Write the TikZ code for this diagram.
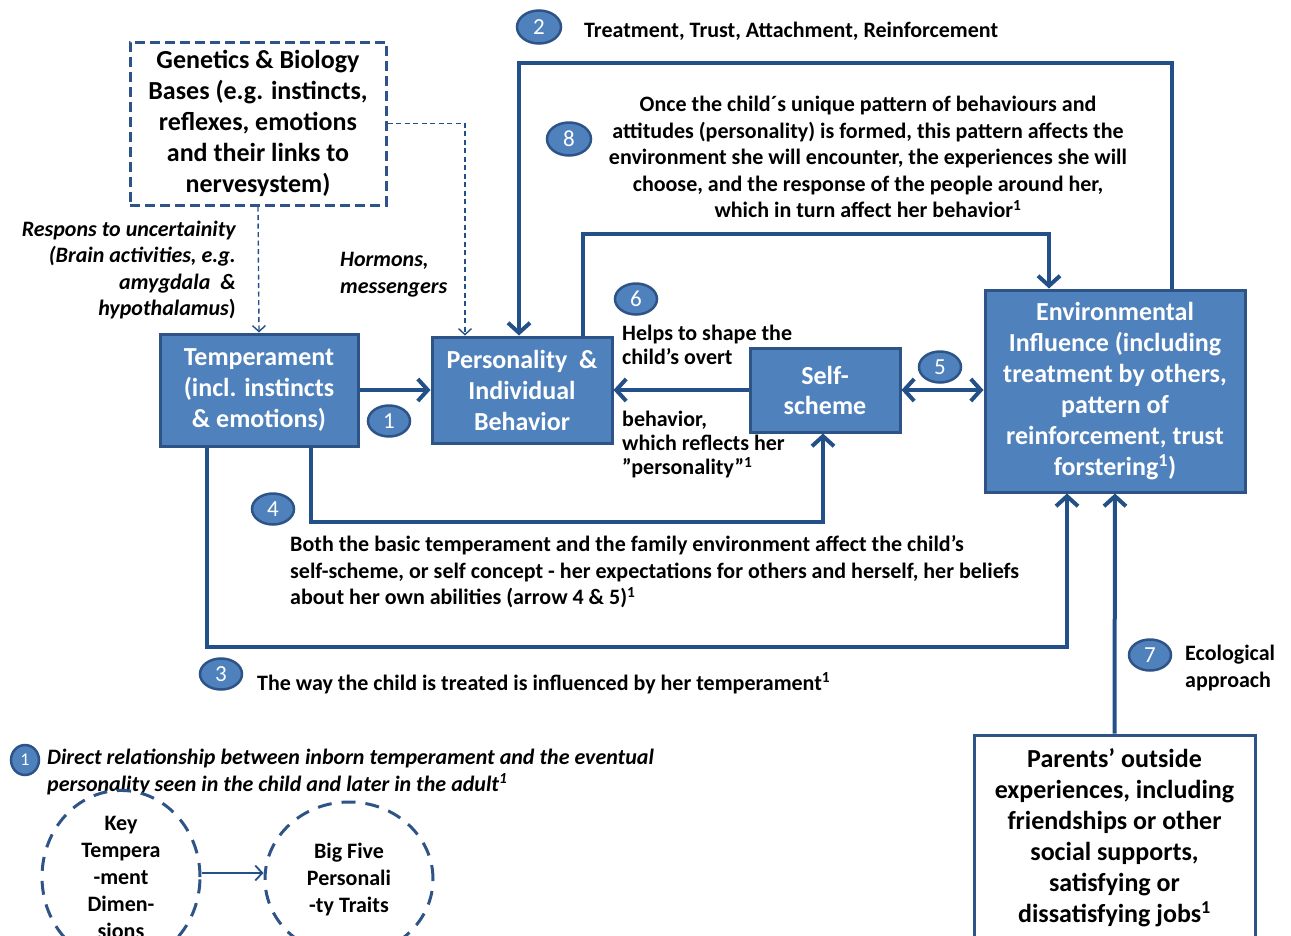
\documentclass[tikz,border=0pt]{standalone}
\usepackage{fontspec}
\setmainfont{Carlito}
\usetikzlibrary{arrows.meta,shapes.geometric}
\definecolor{boxfill}{HTML}{4F81BD}
\definecolor{boxedge}{HTML}{2E5487}
\definecolor{linec}{HTML}{24508A}
\begin{document}
\begin{tikzpicture}[x=1pt,y=-1pt,
  bluebox/.style={rectangle,draw=boxedge,fill=boxfill,line width=3pt,text=white,
    font=\bfseries\fontsize{26}{31}\selectfont,align=center,inner sep=0pt},
  whitebox/.style={rectangle,draw=boxedge,fill=white,line width=3pt,text=black,
    font=\bfseries\fontsize{26}{31}\selectfont,align=center,inner sep=0pt},
  dashbox/.style={rectangle,draw=boxedge,line width=3pt,dash pattern=on 10pt off 5pt,
    font=\bfseries\fontsize{26}{31}\selectfont,align=center,inner sep=0pt},
  dashring/.style={ellipse,draw=boxedge,line width=3pt,dash pattern=on 14pt off 10pt,
    font=\bfseries\fontsize{22}{27}\selectfont,align=center,inner sep=0pt},
  badge/.style={ellipse,draw=boxedge,fill=boxfill,line width=2.5pt,text=white,
    minimum width=42pt,minimum height=31pt,inner sep=0pt,font=\fontsize{23}{23}\selectfont},
  arr/.style={draw=linec,line width=4pt,-{Straight Barb[length=10pt,width=22pt,line width=4pt]}},
  darr/.style={draw=linec,line width=4pt,{Straight Barb[length=10pt,width=22pt,line width=4pt]}-{Straight Barb[length=10pt,width=22pt,line width=4pt]}},
  thinarr/.style={draw=linec,line width=1.4pt,dash pattern=on 5pt off 3.5pt,-{Straight Barb[length=6pt,width=13pt,line width=1.4pt]}},
  solidthin/.style={draw=linec,line width=1.8pt,-{Straight Barb[length=7pt,width=15pt,line width=1.8pt]}},
  lbl/.style={inner sep=0pt,font=\bfseries\fontsize{22}{26.6}\selectfont},
  lbls/.style={inner sep=0pt,font=\bfseries\fontsize{22}{24}\selectfont},
  ilbl/.style={inner sep=0pt,font=\bfseries\itshape\fontsize{22}{26.6}\selectfont}
]
\useasboundingbox (0,0) rectangle (1291,935);

% main boxes
\node[dashbox,minimum width=256pt,minimum height=163pt] (gen) at (258,123.5)
  {Genetics \& Biology\\Bases (e.g. instincts,\\reflexes, emotions\\and their links to\\nervesystem)};
\node[bluebox,minimum width=198pt,minimum height=112pt] (temp) at (259,390)
  {Temperament\\(incl. instincts\\\& emotions)};
\node[bluebox,minimum width=180pt,minimum height=106pt] (pers) at (522,390)
  {Personality~~\&\\Individual\\Behavior};
\node[bluebox,minimum width=150pt,minimum height=84pt,font=\bfseries\fontsize{26}{30}\selectfont] (self) at (825,390)
  {Self-\\scheme};
\node[bluebox,minimum width=260pt,minimum height=202pt] (env) at (1115,391)
  {Environmental\\Influence (including\\treatment by others,\\pattern of\\reinforcement, trust\\forstering\textsuperscript{1})};
\node[whitebox,minimum width=281pt,minimum height=206pt] (par) at (1114.5,838)
  {Parents’ outside\\experiences, including\\friendships or other\\social supports,\\satisfying or\\dissatisfying jobs\textsuperscript{1}};

% dashed links from the biological bases
\draw[thinarr] (gen.south) -- (temp.north);
\draw[thinarr] (gen.east) -| ([xshift=-57pt]pers.north);

% solid connectors
\draw[arr] (temp.east) -- (pers.west);
\draw[arr] (self.west) -- (pers.east);
\draw[darr] (self.east) -- (self.east -| env.west);
\draw[arr] ([xshift=57pt]env.north) -- ++(0,-226) -| ([xshift=-3pt]pers.north);
\draw[arr] ([xshift=61pt]pers.north) -- ++(0,-102) -| ([xshift=-66pt]env.north);
\draw[arr] ([xshift=52pt]temp.south) -- ++(0,74) -| ([xshift=-2pt]self.south);
\draw[arr] ([xshift=-52pt]temp.south) -- ++(0,199) -| ([xshift=-48pt]env.south);
\draw[arr] (par.north) -- (env.south);

% numbered badges
\node[badge] (b1) at (389,421) {1};
\node[badge,minimum width=44pt,minimum height=33pt] (b2) at (539,27) {2};
\node[badge] (b3) at (221,674) {3};
\node[badge] (b4) at (273,509) {4};
\node[badge] (b5) at (940,367) {5};
\node[badge] (b6) at (636,299) {6};
\node[badge] (b7) at (1150,655) {7};
\node[badge,minimum width=44pt,minimum height=33pt] (b8) at (569,139) {8};
\node[badge,minimum width=28pt,minimum height=30pt,font=\fontsize{18}{18}\selectfont] (b1s) at (25,760) {1};

% explanatory texts
\node[lbl,anchor=west] (t2) at (584,31) {Treatment, Trust, Attachment, Reinforcement};
\node[lbl,align=center] (t8) at (868,157)
  {Once the child´s unique pattern of behaviours and\\attitudes (personality) is formed, this pattern affects the\\environment she will encounter, the experiences she will\\choose, and the response of the people around her,\\which in turn affect her behavior\textsuperscript{1}};
\node[ilbl,align=right,anchor=east] (tr) at (236,270)
  {Respons to uncertainity\\(Brain activities, e.g.\\amygdala~~\&\\hypothalamus\textup{)}};
\node[ilbl,align=left,anchor=west] (th) at (340,275) {Hormons,\\messengers};
\node[lbls,align=left,anchor=west] (t6a) at (622,345) {Helps to shape the\\child’s overt};
\node[lbls,align=left,anchor=west] (t6b) at (622,445) {behavior,\\which reflects her\\”personality”\textsuperscript{1}};
\node[lbl,align=left,anchor=west] (t4) at (290,572)
  {Both the basic temperament and the family environment affect the child’s\\self-scheme, or self concept - her expectations for others and herself, her beliefs\\about her own abilities (arrow 4 \& 5)\textsuperscript{1}};
\node[lbl,anchor=west] (t3) at (257,683) {The way the child is treated is influenced by her temperament\textsuperscript{1}};
\node[lbl,align=left,anchor=west] (t7) at (1185,668) {Ecological\\approach};
\node[ilbl,align=left,anchor=west] (t1) at (47,772)
  {Direct relationship between inborn temperament and the eventual\\personality seen in the child and later in the adult\textsuperscript{1}};

% temperament-to-traits sketch
\node[dashring,minimum width=158pt,minimum height=152pt] (kt) at (121,877)
  {Key\\Tempera\\-ment\\Dimen-\\sions};
\node[dashring,minimum width=168pt,minimum height=154pt] (bf) at (349,879)
  {Big Five\\Personali\\-ty Traits};
\draw[solidthin] ([yshift=4pt]kt.east) -- ([yshift=6pt]bf.west);
\end{tikzpicture}
\end{document}
